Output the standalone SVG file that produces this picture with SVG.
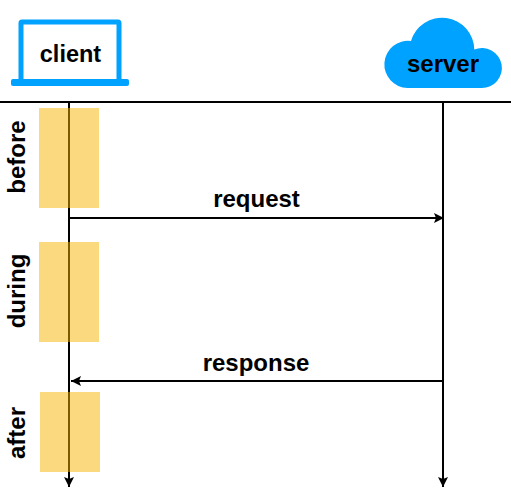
<svg xmlns="http://www.w3.org/2000/svg" width="511" height="503" viewBox="0 0 511 503">
<style>
text{font-family:"Liberation Sans",Arial,sans-serif;font-weight:700;fill:#000;font-size:24px}
.ln{stroke:#000;stroke-width:2;fill:none}
.act{fill:#f7b500;fill-opacity:.5}
.blue{fill:#00a2ff}
</style>
<defs>
<marker id="ah" markerUnits="userSpaceOnUse" markerWidth="10" markerHeight="10" refX="10" refY="5" orient="auto"><path d="M0 0L10 5L0 10L2 5Z" fill="#000"/></marker>
</defs>
<g id="connectors">
<line class="ln" x1="0" y1="102" x2="511" y2="102"/>
<line class="ln" x1="69" y1="102" x2="69" y2="487" marker-end="url(#ah)"/>
<line class="ln" x1="443" y1="102" x2="443" y2="487" marker-end="url(#ah)"/>
<line class="ln" x1="69" y1="218" x2="444" y2="218" marker-end="url(#ah)"/>
<line class="ln" x1="443" y1="381" x2="71" y2="381" marker-end="url(#ah)"/>
<text id="label-request" x="256.500" y="207" text-anchor="middle">request</text>
<text id="label-response" x="256" y="371" text-anchor="middle">response</text>
</g>
<g id="client">
<path d="M21 81V23Q21 22 22 22H118Q119 22 119 23V81" fill="none" stroke="#00a2ff" stroke-width="5"/>
<rect class="blue" x="11" y="79" width="118" height="7" rx="2"/>
<text x="70.500" y="62" text-anchor="middle" style="font-size:23.500px">client</text>
</g>
<g id="server">
<path class="blue" d="M407.500 88A23.600 23.600 0 1 1 411 41A32.300 32.300 0 0 1 474.300 49.500A20 20 0 1 1 481.500 88Z"/>
<text x="443" y="72" text-anchor="middle">server</text>
</g>
<g id="before">
<rect class="act" x="39" y="108" width="60" height="100"/>
<text transform="translate(25 157) rotate(-90)" text-anchor="middle">before</text>
</g>
<g id="during">
<rect class="act" x="39" y="242" width="60" height="100"/>
<text transform="translate(25 291) rotate(-90)" text-anchor="middle">during</text>
</g>
<g id="after">
<rect class="act" x="40" y="392" width="60" height="80"/>
<text transform="translate(25 433) rotate(-90)" text-anchor="middle">after</text>
</g>
</svg>
